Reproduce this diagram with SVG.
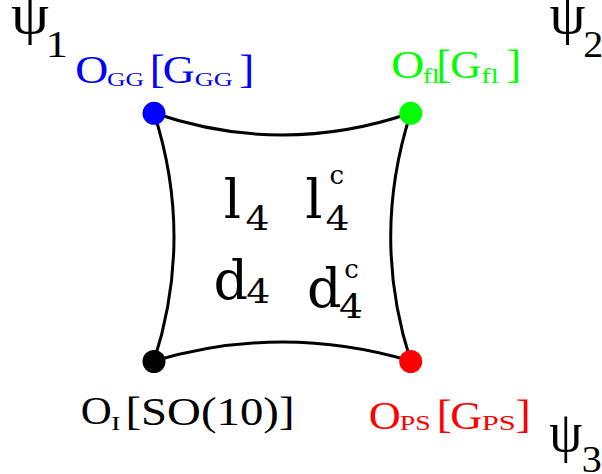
<svg xmlns="http://www.w3.org/2000/svg" width="602" height="474" viewBox="0 0 602 474">
<style>
.lbl{font-family:"Liberation Serif","Times New Roman",serif;text-anchor:middle}
.m{font-size:40px}
.psi{font-size:58px}
.sub{font-size:37px}
.ctr{font-family:"DejaVu Serif",serif;text-anchor:middle;fill:#000}
.edge{fill:none;stroke:#000;stroke-width:3}
</style>
<rect width="602" height="474" fill="#fff"/>
<g id="connectors">
<path class="edge" d="M154,113 Q282.3,157 410.7,113"/>
<path class="edge" d="M154,361 Q282.3,323 410.7,361"/>
<path class="edge" d="M154,113 Q194,237 154,361"/>
<path class="edge" d="M410.7,113 Q370.7,237 410.7,361"/>
</g>
<g id="node-GG" fill="#0000ff">
<circle cx="154" cy="113.3" r="11.5"/>
<text class="lbl m" x="91.8" y="82.5" textLength="33" lengthAdjust="spacingAndGlyphs">O</text>
<text class="lbl" style="font-size:19px" x="125.5" y="85.5" textLength="37" lengthAdjust="spacingAndGlyphs">GG</text>
<text class="lbl m" x="157.2" y="82.5" textLength="15" lengthAdjust="spacingAndGlyphs">[</text>
<text class="lbl m" x="178.7" y="82.5" textLength="32" lengthAdjust="spacingAndGlyphs">G</text>
<text class="lbl" style="font-size:19px" x="213.8" y="85.5" textLength="38" lengthAdjust="spacingAndGlyphs">GG</text>
<text class="lbl m" x="246.7" y="82.5" textLength="15" lengthAdjust="spacingAndGlyphs">]</text>
</g>
<g id="node-fl" fill="#00ff00">
<circle cx="410.7" cy="113.3" r="11.5"/>
<text class="lbl m" x="407.7" y="77.5" textLength="33" lengthAdjust="spacingAndGlyphs">O</text>
<text class="lbl" style="font-size:20.5px" x="431.2" y="83" textLength="16.5" lengthAdjust="spacingAndGlyphs">fl</text>
<text class="lbl m" x="443.7" y="77.5" textLength="15" lengthAdjust="spacingAndGlyphs">[</text>
<text class="lbl m" x="465.8" y="77.5" textLength="31" lengthAdjust="spacingAndGlyphs">G</text>
<text class="lbl" style="font-size:20.5px" x="490" y="83" textLength="17.5" lengthAdjust="spacingAndGlyphs">fl</text>
<text class="lbl m" x="513.8" y="77.5" textLength="15" lengthAdjust="spacingAndGlyphs">]</text>
</g>
<g id="node-I" fill="#000">
<circle cx="154" cy="361.5" r="11.5"/>
<text class="lbl" style="font-size:39px" x="96.3" y="424.3" textLength="31" lengthAdjust="spacingAndGlyphs">O</text>
<text class="lbl" style="font-size:18.6px" x="115.8" y="430" textLength="9.5" lengthAdjust="spacingAndGlyphs">I</text>
<text class="lbl" style="font-size:39px" x="210" y="424.5" textLength="169" lengthAdjust="spacingAndGlyphs">[SO(10)]</text>
</g>
<g id="node-PS" fill="#ff0000">
<circle cx="410.7" cy="361.5" r="11.5"/>
<text class="lbl m" x="384.8" y="428.5" textLength="32" lengthAdjust="spacingAndGlyphs">O</text>
<text class="lbl" style="font-size:22px" x="415.3" y="429.5" textLength="31" lengthAdjust="spacingAndGlyphs">PS</text>
<text class="lbl m" x="444.2" y="428" textLength="15" lengthAdjust="spacingAndGlyphs">[</text>
<text class="lbl m" x="466.2" y="428.5" textLength="32" lengthAdjust="spacingAndGlyphs">G</text>
<text class="lbl" style="font-size:22px" x="498.8" y="429.5" textLength="34" lengthAdjust="spacingAndGlyphs">PS</text>
<text class="lbl m" x="523.3" y="428" textLength="15" lengthAdjust="spacingAndGlyphs">]</text>
</g>
<g id="psi-labels" fill="#000">
<text class="lbl psi" x="30" y="33" textLength="38" lengthAdjust="spacingAndGlyphs">ψ</text>
<text class="lbl sub" x="56.7" y="56.5" textLength="22" lengthAdjust="spacingAndGlyphs">1</text>
<text class="lbl psi" x="567.5" y="33" textLength="36" lengthAdjust="spacingAndGlyphs">ψ</text>
<text class="lbl sub" x="593.3" y="56.5" textLength="20" lengthAdjust="spacingAndGlyphs">2</text>
<text class="lbl psi" x="565.8" y="450.5" textLength="33" lengthAdjust="spacingAndGlyphs">ψ</text>
<text class="lbl sub" x="591.7" y="472" textLength="20" lengthAdjust="spacingAndGlyphs">3</text>
</g>
<g id="center-fields">
<text class="ctr" style="font-size:54px" x="232.5" y="218">l</text>
<text class="ctr" style="font-size:34px" x="257.5" y="230" textLength="24" lengthAdjust="spacingAndGlyphs">4</text>
<text class="ctr" style="font-size:54px" x="314" y="218">l</text>
<text class="ctr" style="font-size:26px" x="336.7" y="184">c</text>
<text class="ctr" style="font-size:34px" x="337.5" y="230" textLength="24" lengthAdjust="spacingAndGlyphs">4</text>
<text class="ctr" style="font-size:54px" x="230.8" y="299">d</text>
<text class="ctr" style="font-size:34px" x="258.3" y="303" textLength="24" lengthAdjust="spacingAndGlyphs">4</text>
<text class="ctr" style="font-size:54px" x="324.2" y="307">d</text>
<text class="ctr" style="font-size:26px" x="351.5" y="278">c</text>
<text class="ctr" style="font-size:34px" x="351" y="318" textLength="24" lengthAdjust="spacingAndGlyphs">4</text>
</g>
</svg>
